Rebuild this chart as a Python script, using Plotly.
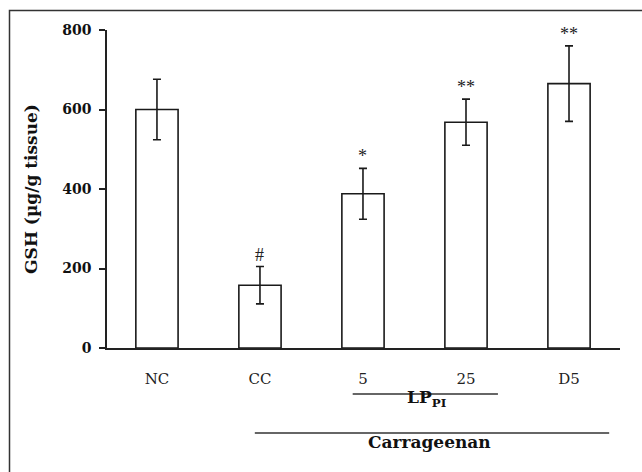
import plotly.graph_objects as go

categories = ["NC", "CC", "5", "25", "D5"]
gsh_mean = [600, 158, 388, 568, 665]
gsh_err = [76, 47, 64, 58, 95]
sig_marks = ["", "#", "*", "**", "**"]
y_ticks = [0, 200, 400, 600, 800]

x_idx = list(range(len(categories)))
serif = "DejaVu Serif, serif"
tserif = "Liberation Serif, Times New Roman, serif"

fig = go.Figure()
fig.add_trace(go.Bar(
    x=x_idx, y=gsh_mean,
    marker=dict(color="white", line=dict(color="#1a1a1a", width=1.6)),
    error_y=dict(type="data", array=gsh_err, visible=True, color="#1a1a1a", thickness=1.6, width=4),
    width=0.41,
    cliponaxis=False,
    showlegend=False,
))

for xi, m, v, e in zip(x_idx, sig_marks, gsh_mean, gsh_err):
    if m:
        fig.add_annotation(x=xi, y=v + e, text=m, showarrow=False, yanchor="bottom", yshift=0,
                           font=dict(family=tserif, size=18, color="#222"))

W, H = 642, 472
ml, mr, mt, mb = 107, 22, 30, 124
pw, ph = W - ml - mr, H - mt - mb

def px_to_paper_x(px):
    return (px - ml) / pw

def px_to_paper_y(py):
    return (H - mb - py) / ph

# outer frame
fig.add_shape(type="rect", xref="paper", yref="paper",
              x0=px_to_paper_x(9.5), x1=px_to_paper_x(660), y0=px_to_paper_y(10.5), y1=px_to_paper_y(490),
              line=dict(color="#333", width=1.5))

# group brackets
lp_span = (1.9, 3.31)
carr_span = (0.95, 4.39)
fig.add_shape(type="line", xref="x", yref="paper", x0=lp_span[0], x1=lp_span[1],
              y0=px_to_paper_y(394), y1=px_to_paper_y(394), line=dict(color="#333", width=1.5))
fig.add_shape(type="line", xref="x", yref="paper", x0=carr_span[0], x1=carr_span[1],
              y0=px_to_paper_y(433), y1=px_to_paper_y(433), line=dict(color="#333", width=1.5))
fig.add_annotation(x=sum(lp_span) / 2 + 0.02, xref="x", y=px_to_paper_y(412), yref="paper",
                   text="<b>LP<sub>PI</sub></b>", showarrow=False,
                   font=dict(family=serif, size=17, color="#111"))
fig.add_annotation(x=sum(carr_span) / 2 - 0.02, xref="x", y=px_to_paper_y(454), yref="paper",
                   text="<b>Carrageenan</b>", showarrow=False,
                   font=dict(family=serif, size=17, color="#111"))

fig.update_layout(
    width=W, height=H,
    margin=dict(l=ml, r=mr, t=mt, b=mb),
    paper_bgcolor="white", plot_bgcolor="white",
    xaxis=dict(
        range=[-0.485, 4.495], tickmode="array", tickvals=x_idx, ticktext=categories,
        showline=True, linecolor="#222", linewidth=1.6, ticks="", showgrid=False, zeroline=False,
        tickfont=dict(family=serif, size=15, color="#222"), ticklabelstandoff=16,
    ),
    yaxis=dict(
        range=[0, 800], tickmode="array", tickvals=y_ticks,
        showline=True, linecolor="#222", linewidth=1.6, ticks="outside", ticklen=6, tickwidth=1.6,
        tickcolor="#222", showgrid=False, zeroline=False,
        tickfont=dict(family=serif, size=14, color="#111", weight="bold"), ticklabelstandoff=5,
        title=dict(text="<b>GSH (µg/g tissue)</b>", font=dict(family=serif, size=17, color="#111"), standoff=20),
    ),
)

fig.write_html("out.html", config={"displayModeBar": False},
               post_script="document.body.style.margin='0px';")
